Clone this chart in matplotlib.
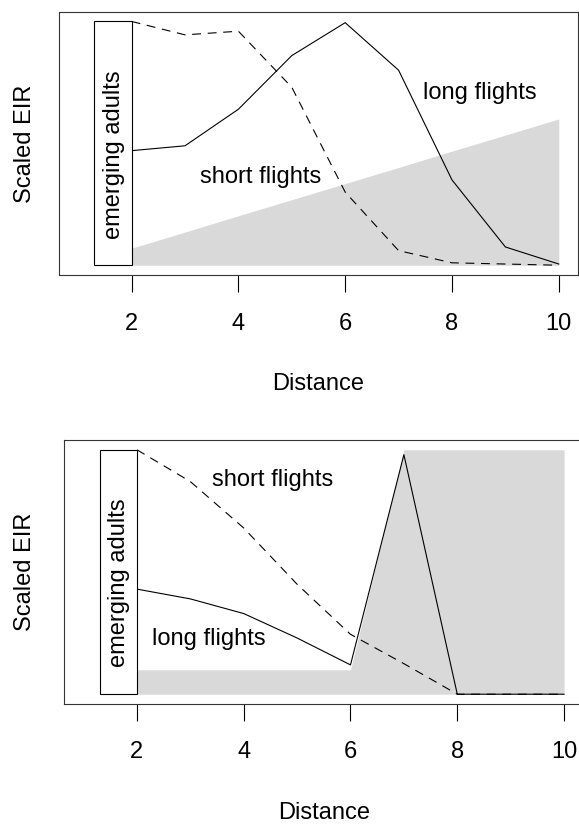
import matplotlib
matplotlib.use('Agg')
import matplotlib.pyplot as plt
from matplotlib.patches import Rectangle

plt.rcParams['font.family'] = ['Liberation Sans', 'DejaVu Sans']

# Khoảng cách
distance = [2, 3, 4, 5, 6, 7, 8, 9, 10]

# Panel trên
top_short = [1.0, 0.945, 0.96, 0.73, 0.30, 0.06, 0.01, 0.005, 0.0]
top_long = [0.47, 0.49, 0.64, 0.86, 0.995, 0.80, 0.35, 0.075, 0.005]
top_shade = [0.07, 0.136, 0.203, 0.269, 0.335, 0.401, 0.468, 0.534, 0.60]

# Panel dưới
bot_short = [1.0, 0.87, 0.68, 0.45, 0.245, 0.125, 0.0, 0.0, 0.0]
bot_long = [0.43, 0.39, 0.33, 0.23, 0.12, 0.98, 0.0, 0.0, 0.0]
bot_shade = [0.10, 0.10, 0.10, 0.10, 0.10, 1.0, 1.0, 1.0, 1.0]

xticks = [2, 4, 6, 8, 10]

W, H = 579, 826
fig = plt.figure(figsize=(W / 100, H / 100), dpi=100)

FS = 17
GRAY = '#d9d9d9'


def panel(left_px, top_px, bottom_px, short, long_, shade, labels):
    ax = fig.add_axes([left_px / W, 1 - bottom_px / H, 519 / W, (bottom_px - top_px) / H])
    ax.set_xlim(0.64, 10.36)
    ax.set_ylim(-0.04, 1.04)
    ax.fill_between(distance, 0, shade, color=GRAY, lw=0, zorder=1)
    ax.plot(distance, long_, color='black', lw=0.8, zorder=3)
    ax.plot(distance, short, color='black', lw=0.8, ls=(0, (8, 6)), zorder=3)
    ax.add_patch(Rectangle((1.3, 0), 0.7, 1, facecolor='white', edgecolor='black', lw=0.8, zorder=4))
    ax.text(1.67, 0.455, 'emerging adults', rotation=90, ha='center', va='center', fontsize=FS, zorder=5)
    for txt, x, y in labels:
        ax.text(x, y, txt, ha='center', va='center', fontsize=FS, zorder=5)
    ax.set_xticks(xticks)
    ax.set_xticklabels([str(t) for t in xticks], fontsize=FS)
    ax.tick_params(axis='x', length=12, width=0.8, pad=15)
    ax.set_yticks([])
    for s in ax.spines.values():
        s.set_linewidth(0.8)
        s.set_color('#333333')
    # nhãn trục
    cx = (left_px + left_px + 519) / 2
    fig.text(cx / W, 1 - (bottom_px + 109) / H, 'Distance', ha='center', va='center', fontsize=FS)
    fig.text(25 / W, 1 - (top_px + bottom_px) / 2 / H, 'Scaled EIR', rotation=90,
             ha='center', va='center', fontsize=FS)
    return ax


panel(59, 11.7, 275, top_short, top_long, top_shade,
      [('short flights', 4.42, 0.36), ('long flights', 8.53, 0.706)])
panel(64.3, 440, 704, bot_short, bot_long, bot_shade,
      [('short flights', 4.54, 0.878), ('long flights', 3.34, 0.224)])

plt.savefig('out.png', dpi=100)
plt.close()
